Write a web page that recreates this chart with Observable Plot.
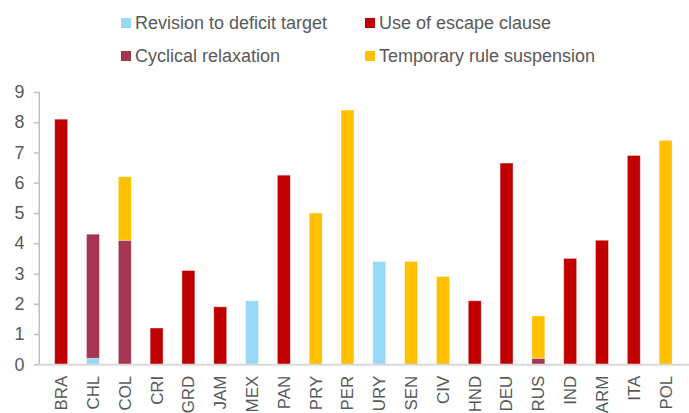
<!DOCTYPE html>
<html>
<head>
<meta charset="utf-8">
<script src="https://cdn.jsdelivr.net/npm/d3@7"></script>
<script src="https://cdn.jsdelivr.net/npm/@observablehq/plot@0.6"></script>
<style>
  html, body { margin: 0; padding: 0; background: #fff; overflow: hidden; width: 689px; height: 413px; }
  #legend { position: relative; height: 80px; width: 689px; font-family: "Liberation Sans", Arial, sans-serif; font-size: 18px; color: #595959; }
  .item { position: absolute; display: flex; align-items: center; white-space: nowrap; }
  .sw { width: 10px; height: 10px; margin-right: 4px; }
  #chart svg { display: block; overflow: visible; }
</style>
</head>
<body>
<div id="legend"></div>
<div id="chart"></div>
<script>
const countries = ["BRA","CHL","COL","CRI","GRD","JAM","MEX","PAN","PRY","PER","URY","SEN","CIV","HND","DEU","RUS","IND","ARM","ITA","POL"];
const seriesNames = ["Revision to deficit target","Cyclical relaxation","Use of escape clause","Temporary rule suspension"];
const seriesColors = ["#97DAF8","#A63552","#C00000","#FFC000"];
const revision  = [0,   0.2, 0,   0,   0,   0,   2.1, 0,    0,   0,   3.4, 0,   0,   0,   0,    0,   0,   0,   0,   0];
const cyclical  = [0,   4.1, 4.1, 0,   0,   0,   0,   0,    0,   0,   0,   0,   0,   0,   0,    0.2, 0,   0,   0,   0];
const escape    = [8.1, 0,   0,   1.2, 3.1, 1.9, 0,   6.25, 0,   0,   0,   0,   0,   2.1, 6.65, 0,   3.5, 4.1, 6.9, 0];
const temporary = [0,   0,   2.1, 0,   0,   0,   0,   0,    5.0, 8.4, 0,   3.4, 2.9, 0,   0,    1.4, 0,   0,   0,   7.4];
const yTicks = [0,1,2,3,4,5,6,7,8,9];

const seriesValues = [revision, cyclical, escape, temporary];
const rows = [];
seriesNames.forEach((s, i) => {
  countries.forEach((c, j) => {
    if (seriesValues[i][j] > 0) rows.push({country: c, series: s, value: seriesValues[i][j]});
  });
});

// Legend (HTML, above the SVG)
const legend = document.getElementById("legend");
const legendPos = [[121, 23], [121, 56], [365, 23], [365, 56]];
seriesNames.forEach((s, i) => {
  const el = document.createElement("div");
  el.className = "item";
  el.style.left = legendPos[i][0] + "px";
  el.style.top = (legendPos[i][1] - 11) + "px";
  el.style.height = "22px";
  el.innerHTML = `<span class="sw" style="background:${seriesColors[i]}"></span><span>${s}</span>`;
  legend.appendChild(el);
});

const chart = Plot.plot({
  width: 693,
  height: 333,
  marginLeft: 39,
  marginRight: 0,
  marginTop: 12,
  marginBottom: 47,
  style: {fontFamily: "'Liberation Sans', Arial, sans-serif", fontSize: "18px", color: "#595959", background: "transparent"},
  x: {domain: countries, paddingInner: 0.59, paddingOuter: 0.295, label: null},
  y: {domain: [0, 9], ticks: yTicks, label: null},
  color: {domain: seriesNames, range: seriesColors},
  marks: [
    Plot.frame({anchor: "left", stroke: "#bfbfbf", strokeWidth: 1.5}),
    Plot.barY(rows, Plot.stackY({
      x: "country", y: "value", fill: "series",
      order: seriesNames,
      stroke: "#ffffff", strokeOpacity: 0.45, strokeWidth: 0.8
    })),
    Plot.ruleY([0], {stroke: "#d9d9d9", strokeWidth: 2}),
    Plot.axisY({ticks: yTicks, tickSize: 5, tickPadding: 10, stroke: "#bfbfbf", strokeWidth: 1.5, strokeOpacity: 1, label: null, fill: "#595959", fontSize: 18}),
    Plot.axisX({tickSize: 0, tickPadding: 11, tickRotate: -90, label: null, fill: "#595959", fontSize: 17})
  ]
});
document.getElementById("chart").appendChild(chart);
</script>
</body>
</html>
